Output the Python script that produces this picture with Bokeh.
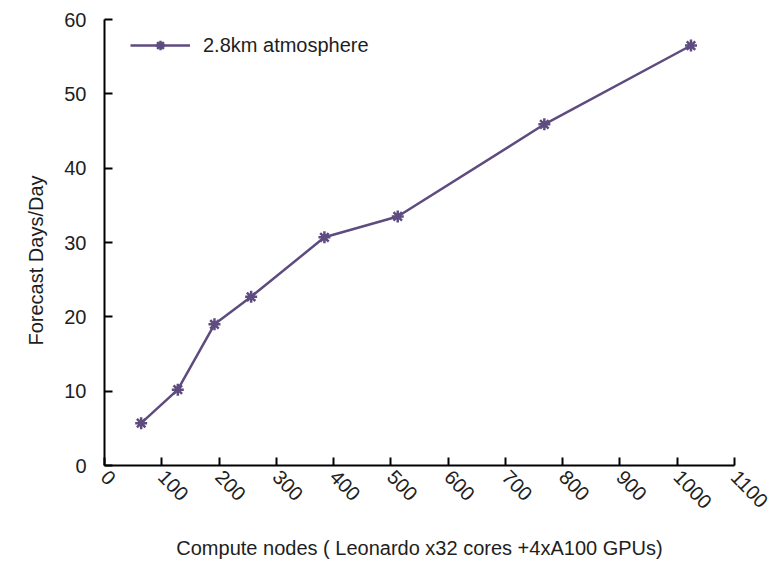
from bokeh.plotting import figure
from bokeh.models import Range1d, FixedTicker, Legend, LegendItem, Title
from bokeh.embed import file_html
from bokeh.resources import INLINE

nodes = [64, 128, 192, 256, 384, 512, 768, 1024]
forecast = [5.7, 10.2, 19.0, 22.7, 30.7, 33.5, 45.9, 56.5]
series_name = "2.8km atmosphere"
x_ticks = [0, 100, 200, 300, 400, 500, 600, 700, 800, 900, 1000, 1100]
y_ticks = [0, 10, 20, 30, 40, 50, 60]
x_title = "Compute nodes ( Leonardo x32 cores +4xA100 GPUs)"
y_title = "Forecast Days/Day"

FONT = "Liberation Sans"
COLOR = "#5e4b80"
TXT = "#1e1e1e"
FS = "20px"

p = figure(width=782, height=567, output_backend="svg", toolbar_location=None,
           x_range=Range1d(0, 1100), y_range=Range1d(0, 60),
           min_border_left=104, min_border_right=48, min_border_top=19, min_border_bottom=102)
p.outline_line_color = None
p.xgrid.visible = False
p.ygrid.visible = False

r = p.line(nodes, forecast, line_color=COLOR, line_width=2.5)
m = p.scatter(nodes, forecast, marker="asterisk", size=12, line_color=COLOR, line_width=2.5)

for ax in (p.xaxis[0], p.yaxis[0]):
    ax.axis_line_color = "#000000"
    ax.axis_line_width = 2
    ax.major_tick_line_color = "#000000"
    ax.major_tick_line_width = 2
    ax.major_tick_in = 8
    ax.major_tick_out = 0
    ax.minor_tick_line_color = None
    ax.major_label_text_font = FONT
    ax.major_label_text_font_size = FS
    ax.major_label_text_color = TXT
    ax.axis_label_text_font = FONT
    ax.axis_label_text_font_style = "normal"
    ax.axis_label_text_font_size = FS
    ax.axis_label_text_color = TXT

p.xaxis.ticker = FixedTicker(ticks=x_ticks)
p.yaxis.ticker = FixedTicker(ticks=y_ticks)
p.xaxis.major_label_orientation = -0.8
p.xaxis.major_label_standoff = 8
p.yaxis.major_label_standoff = 18
p.xaxis.axis_label = x_title
p.xaxis.axis_label_standoff = 19

# y title as a side title so it can sit slightly below the frame centre
p.add_layout(Title(text=y_title, align="left", offset=120, standoff=29,
                   text_font=FONT, text_font_size=FS, text_font_style="normal",
                   text_color=TXT), "left")

legend = Legend(items=[LegendItem(label=series_name, renderers=[r, m])],
                location=(26, 408), margin=0, padding=0,
                glyph_width=60, glyph_height=24, label_height=24, label_standoff=13,
                label_text_font=FONT, label_text_font_size=FS, label_text_color=TXT,
                border_line_color=None, background_fill_alpha=0)
p.add_layout(legend, "center")

open("out.html", "w").write(file_html(p, INLINE))
